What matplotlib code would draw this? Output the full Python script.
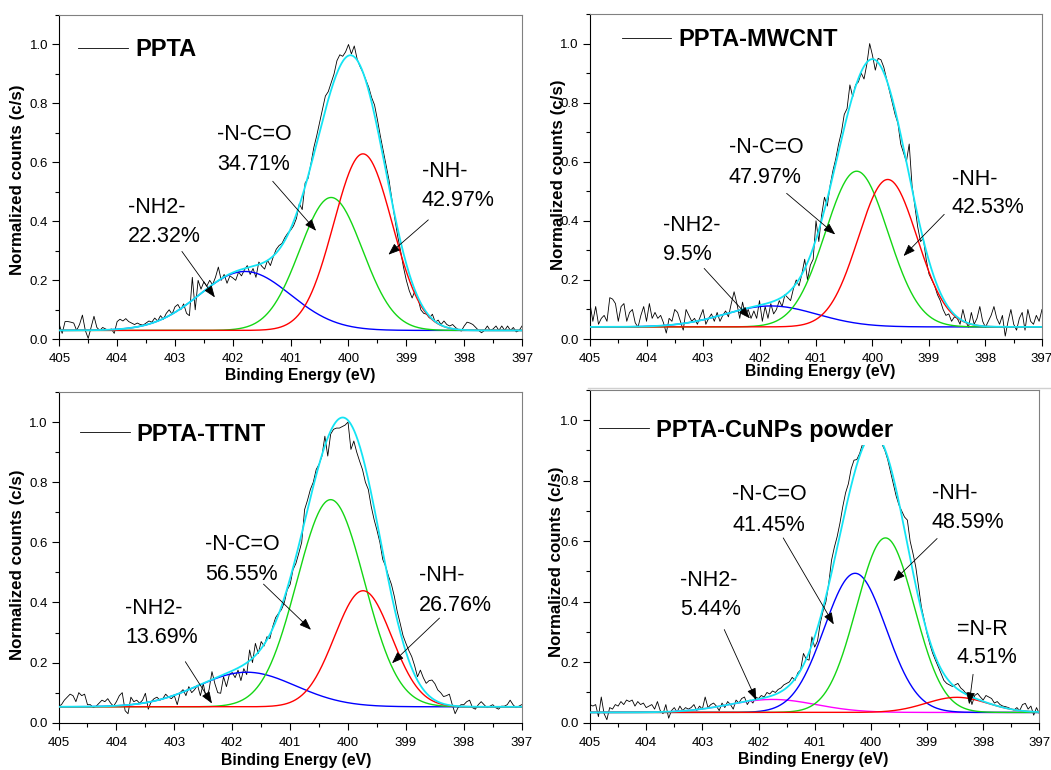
import numpy as np
import matplotlib
matplotlib.use("Agg")
import matplotlib.pyplot as plt
from matplotlib.lines import Line2D
from matplotlib.ticker import MultipleLocator, FormatStrFormatter

plt.rcParams['font.family'] = ['Liberation Sans', 'DejaVu Sans']

# ---------------------------------------------------------------- data
# binding-energy grid of the N1s scans (405 -> 397 eV, 0.05 eV step)
energy = np.linspace(405.0, 397.0, 161)

# normalized N1s counts, one row per eV
ppta_counts = [
    0.050, 0.020, 0.060, 0.060, 0.058, 0.055, 0.030, 0.050, 0.082, 0.030, 0.003, 0.040, 0.078, 0.040, 0.030, 0.040, 0.035, 0.030, 0.035, 0.020,
    0.060, 0.068, 0.062, 0.070, 0.060, 0.055, 0.050, 0.055, 0.050, 0.048, 0.055, 0.062, 0.058, 0.072, 0.062, 0.080, 0.068, 0.088, 0.100, 0.085,
    0.110, 0.118, 0.100, 0.120, 0.088, 0.080, 0.210, 0.100, 0.200, 0.170, 0.195, 0.180, 0.200, 0.185, 0.210, 0.245, 0.200, 0.220, 0.190, 0.215,
    0.208, 0.200, 0.228, 0.215, 0.235, 0.250, 0.220, 0.240, 0.210, 0.262, 0.248, 0.238, 0.268, 0.250, 0.280, 0.305, 0.318, 0.325, 0.345, 0.360,
    0.370, 0.385, 0.410, 0.460, 0.440, 0.530, 0.545, 0.595, 0.650, 0.690, 0.735, 0.780, 0.825, 0.840, 0.870, 0.900, 0.945, 0.965, 0.960, 0.975,
    1.000, 0.968, 0.995, 0.950, 0.925, 0.905, 0.880, 0.855, 0.820, 0.795, 0.745, 0.690, 0.640, 0.590, 0.540, 0.475, 0.410, 0.350, 0.300, 0.245,
    0.200, 0.165, 0.140, 0.165, 0.140, 0.100, 0.088, 0.085, 0.072, 0.085, 0.058, 0.065, 0.050, 0.062, 0.050, 0.045, 0.050, 0.040, 0.032, 0.028,
    0.045, 0.058, 0.055, 0.050, 0.040, 0.030, 0.022, 0.030, 0.045, 0.030, 0.035, 0.045, 0.030, 0.045, 0.030, 0.045, 0.030, 0.040, 0.025, 0.030,
    0.045,
]

mwcnt_counts = [
    0.120, 0.060, 0.110, 0.050, 0.070, 0.080, 0.060, 0.140, 0.135, 0.120, 0.060, 0.110, 0.120, 0.060, 0.090, 0.100, 0.055, 0.040, 0.080, 0.110,
    0.060, 0.120, 0.070, 0.090, 0.070, 0.080, 0.055, 0.020, 0.070, 0.060, 0.100, 0.090, 0.060, 0.030, 0.100, 0.080, 0.060, 0.070, 0.050, 0.075,
    0.100, 0.050, 0.070, 0.085, 0.060, 0.090, 0.060, 0.080, 0.095, 0.075, 0.120, 0.160, 0.120, 0.070, 0.125, 0.080, 0.100, 0.070, 0.095, 0.070,
    0.130, 0.060, 0.110, 0.070, 0.120, 0.085, 0.100, 0.130, 0.110, 0.150, 0.140, 0.130, 0.170, 0.200, 0.180, 0.220, 0.270, 0.200, 0.250, 0.270,
    0.400, 0.330, 0.420, 0.480, 0.450, 0.520, 0.570, 0.610, 0.660, 0.700, 0.760, 0.780, 0.860, 0.820, 0.860, 0.870, 0.900, 0.880, 0.930, 1.000,
    0.960, 0.910, 0.950, 0.945, 0.920, 0.880, 0.840, 0.800, 0.760, 0.730, 0.660, 0.630, 0.600, 0.660, 0.520, 0.450, 0.380, 0.330, 0.340, 0.270,
    0.220, 0.200, 0.180, 0.150, 0.130, 0.100, 0.080, 0.085, 0.060, 0.075, 0.070, 0.050, 0.100, 0.060, 0.040, 0.090, 0.050, 0.070, 0.110, 0.060,
    0.040, 0.060, 0.080, 0.110, 0.070, 0.050, 0.080, 0.010, 0.060, 0.100, 0.050, 0.030, 0.070, 0.090, 0.030, 0.100, 0.060, 0.050, 0.080, 0.060,
    0.100,
]

ttnt_counts = [
    0.055, 0.060, 0.075, 0.085, 0.095, 0.090, 0.070, 0.100, 0.090, 0.095, 0.060, 0.060, 0.050, 0.055, 0.065, 0.075, 0.070, 0.080, 0.065, 0.055,
    0.070, 0.090, 0.100, 0.040, 0.030, 0.085, 0.070, 0.075, 0.065, 0.075, 0.098, 0.045, 0.070, 0.080, 0.085, 0.075, 0.080, 0.095, 0.085, 0.080,
    0.090, 0.060, 0.100, 0.110, 0.090, 0.120, 0.100, 0.110, 0.125, 0.090, 0.130, 0.080, 0.110, 0.170, 0.130, 0.100, 0.098, 0.153, 0.120, 0.160,
    0.167, 0.150, 0.175, 0.140, 0.180, 0.160, 0.242, 0.200, 0.264, 0.230, 0.270, 0.255, 0.286, 0.280, 0.320, 0.350, 0.364, 0.376, 0.400, 0.442,
    0.460, 0.509, 0.530, 0.564, 0.600, 0.709, 0.740, 0.776, 0.800, 0.842, 0.860, 0.887, 0.953, 0.887, 0.960, 0.976, 0.980, 0.980, 0.985, 0.990,
    1.000, 0.909, 0.937, 0.900, 0.870, 0.842, 0.800, 0.776, 0.720, 0.676, 0.640, 0.600, 0.543, 0.520, 0.487, 0.460, 0.420, 0.370, 0.331, 0.290,
    0.264, 0.240, 0.220, 0.190, 0.153, 0.175, 0.150, 0.131, 0.140, 0.142, 0.130, 0.109, 0.100, 0.087, 0.090, 0.095, 0.060, 0.030, 0.050, 0.060,
    0.060, 0.070, 0.075, 0.050, 0.045, 0.060, 0.070, 0.060, 0.050, 0.055, 0.060, 0.050, 0.045, 0.055, 0.055, 0.060, 0.075, 0.060, 0.050, 0.055,
    0.060,
]

cunps_counts = [
    0.060, 0.055, 0.060, 0.020, 0.085, 0.030, 0.010, 0.050, 0.045, 0.060, 0.055, 0.070, 0.060, 0.075, 0.070, 0.075, 0.055, 0.070, 0.060, 0.065,
    0.050, 0.055, 0.060, 0.045, 0.070, 0.040, 0.030, 0.060, 0.015, 0.040, 0.050, 0.035, 0.055, 0.040, 0.050, 0.045, 0.050, 0.060, 0.040, 0.055,
    0.045, 0.085, 0.050, 0.060, 0.065, 0.055, 0.040, 0.065, 0.050, 0.070, 0.060, 0.045, 0.075, 0.065, 0.080, 0.085, 0.060, 0.075, 0.065, 0.085,
    0.080, 0.090, 0.085, 0.100, 0.095, 0.105, 0.100, 0.110, 0.115, 0.125, 0.130, 0.135, 0.150, 0.140, 0.165, 0.175, 0.229, 0.210, 0.207, 0.284,
    0.250, 0.270, 0.330, 0.370, 0.400, 0.460, 0.537, 0.580, 0.615, 0.660, 0.714, 0.760, 0.790, 0.840, 0.868, 0.870, 0.890, 0.920, 0.940, 0.960,
    0.990, 1.000, 0.970, 0.950, 0.920, 0.900, 0.870, 0.830, 0.790, 0.750, 0.720, 0.700, 0.680, 0.670, 0.600, 0.560, 0.515, 0.450, 0.383, 0.340,
    0.295, 0.260, 0.230, 0.207, 0.185, 0.163, 0.140, 0.130, 0.125, 0.120, 0.125, 0.130, 0.115, 0.107, 0.095, 0.100, 0.060, 0.090, 0.097, 0.085,
    0.075, 0.090, 0.085, 0.080, 0.065, 0.070, 0.060, 0.055, 0.053, 0.050, 0.045, 0.042, 0.050, 0.040, 0.060, 0.064, 0.045, 0.055, 0.025, 0.050,
    0.030,
]

# Gaussian fit components: centre (eV), height above background, area share (%)
ppta_names = ["-NH2-", "-N-C=O", "-NH-"]
ppta_centers = [401.79, 400.30, 399.75]
ppta_heights = [0.200, 0.451, 0.599]
ppta_shares = [22.32, 34.71, 42.97]
ppta_background = 0.030
ppta_total_area = 1.767

mwcnt_names = ["-NH2-", "-N-C=O", "-NH-"]
mwcnt_centers = [401.80, 400.28, 399.73]
mwcnt_heights = [0.071, 0.527, 0.499]
mwcnt_shares = [9.5, 47.97, 42.53]
mwcnt_background = 0.041
mwcnt_total_area = 1.529

ttnt_names = ["-NH2-", "-N-C=O", "-NH-"]
ttnt_centers = [401.75, 400.30, 399.74]
ttnt_heights = [0.115, 0.689, 0.386]
ttnt_shares = [13.69, 56.55, 26.76]
ttnt_background = 0.053
ttnt_total_area = 1.780

cunps_names = ["-NH2-", "-N-C=O", "-NH-", "=N-R"]
cunps_centers = [401.75, 400.28, 399.74, 398.47]
cunps_heights = [0.043, 0.460, 0.577, 0.050]
cunps_shares = [5.44, 41.45, 48.59, 4.51]
cunps_background = 0.034
cunps_total_area = 1.529

sample_labels = ["PPTA", "PPTA-MWCNT", "PPTA-TTNT", "PPTA-CuNPs powder"]

# ---------------------------------------------------------------- styling / layout
BLUE, GREEN, RED, MAGENTA, CYAN = "#0000ff", "#14d614", "#ff0000", "#ff00ff", "#14e4f4"

panels = [
    dict(rect=[0.0564, 0.5594, 0.4403, 0.4211], counts=ppta_counts, names=ppta_names,
         centers=ppta_centers, heights=ppta_heights, shares=ppta_shares,
         bg=ppta_background, area=ppta_total_area, colors=[BLUE, GREEN, RED],
         legend_xy=(0.0335, 0.939), ylab=(-0.0734, 0.491), xlab=(0.520, -0.0894),
         notes=[  # (text x, 1st baseline, 2nd baseline, arrow tail, arrow head)
             (403.82, 0.428, 0.330, (402.88, 0.298), (402.31, 0.142)),
             (402.27, 0.677, 0.575, (401.31, 0.536), (400.56, 0.368)),
             (398.73, 0.549, 0.451, (398.62, 0.405), (399.31, 0.287)),
         ]),
    dict(rect=[0.5614, 0.5597, 0.4300, 0.4221], counts=mwcnt_counts, names=mwcnt_names,
         centers=mwcnt_centers, heights=mwcnt_heights, shares=mwcnt_shares,
         bg=mwcnt_background, area=mwcnt_total_area, colors=[BLUE, GREEN, RED],
         legend_xy=(0.0624, 0.967), ylab=(-0.0542, 0.505), xlab=(0.509, -0.078),
         notes=[
             (403.71, 0.365, 0.267, (402.98, 0.239), (402.17, 0.070)),
             (402.54, 0.628, 0.529, (401.52, 0.493), (400.66, 0.354)),
             (398.60, 0.523, 0.425, (398.73, 0.422), (399.45, 0.281)),
         ]),
    dict(rect=[0.0557, 0.0614, 0.4407, 0.4295], counts=ttnt_counts, names=ttnt_names,
         centers=ttnt_centers, heights=ttnt_heights, shares=ttnt_shares,
         bg=ttnt_background, area=ttnt_total_area, colors=[BLUE, GREEN, RED],
         legend_xy=(0.0389, 0.918), ylab=(-0.0723, 0.478), xlab=(0.514, -0.0925),
         notes=[
             (403.85, 0.361, 0.264, (402.81, 0.203), (402.35, 0.064)),
             (402.47, 0.573, 0.476, (401.46, 0.461), (400.64, 0.309)),
             (398.77, 0.470, 0.370, (398.42, 0.348), (399.24, 0.198)),
         ]),
    dict(rect=[0.5614, 0.0614, 0.4275, 0.4321], counts=cunps_counts, names=cunps_names,
         centers=cunps_centers, heights=cunps_heights, shares=cunps_shares,
         bg=cunps_background, area=cunps_total_area, colors=[MAGENTA, BLUE, GREEN, RED],
         legend_xy=(0.0122, 0.925), ylab=(-0.0583, 0.484), xlab=(0.496, -0.087),
         notes=[
             (403.40, 0.452, 0.356, (402.61, 0.308), (402.04, 0.075)),
             (402.47, 0.736, 0.634, (401.56, 0.611), (400.66, 0.325)),
             (398.92, 0.741, 0.645, (398.82, 0.609), (399.60, 0.468)),
             (398.47, 0.290, 0.196, (398.18, 0.160), (398.25, 0.061)),
         ]),
]


def gaussian(x, center, height, sigma):
    return height * np.exp(-(x - center) ** 2 / (2.0 * sigma ** 2))


fig = plt.figure(figsize=(10.51, 7.70), dpi=100)
fine = np.linspace(405.0, 397.0, 801)

for label, p in zip(sample_labels, panels):
    ax = fig.add_axes(p["rect"])

    # measured spectrum
    ax.plot(energy, p["counts"], color="black", lw=0.6, label=label, zorder=2)

    # fitted components: width follows from the peak's area share
    envelope = np.full_like(fine, p["bg"])
    for c, h, s, col in zip(p["centers"], p["heights"], p["shares"], p["colors"]):
        sigma = p["area"] * s / 100.0 / (h * np.sqrt(2 * np.pi))
        comp = gaussian(fine, c, h, sigma)
        envelope += comp
        ax.plot(fine, p["bg"] + comp, color=col, lw=1.0, zorder=3)
    ax.plot(fine, envelope, color=CYAN, lw=1.3, zorder=4)

    # peak labels with arrows
    for name, share, (tx, y1, y2, tail, head) in zip(p["names"], p["shares"], p["notes"]):
        ax.text(tx, y1, name, fontsize=15.5, ha="left", va="baseline", zorder=6)
        ax.text(tx, y2, f"{share:g}%", fontsize=15.5, ha="left", va="baseline", zorder=6)
        ax.annotate("", xy=head, xytext=tail, zorder=6,
                    arrowprops=dict(arrowstyle="-|>,head_length=0.45,head_width=0.17",
                                    lw=0.6, color="black", shrinkA=0, shrinkB=0,
                                    mutation_scale=16))

    ax.set_xlim(405, 397)
    ax.set_ylim(0, 1.1)
    ax.xaxis.set_major_locator(MultipleLocator(1))
    ax.xaxis.set_minor_locator(MultipleLocator(0.5))
    ax.yaxis.set_major_locator(MultipleLocator(0.2))
    ax.yaxis.set_minor_locator(MultipleLocator(0.1))
    ax.xaxis.set_major_formatter(FormatStrFormatter("%d"))
    ax.yaxis.set_major_formatter(FormatStrFormatter("%.1f"))
    ax.tick_params(which="both", direction="out", top=False, right=False,
                   width=0.8, labelsize=9.5, colors="black")
    ax.tick_params(which="major", length=5)
    ax.tick_params(which="minor", length=3)
    ax.tick_params(axis="x", pad=5)
    ax.tick_params(axis="y", pad=3)
    for side in ("left", "bottom"):
        ax.spines[side].set_color("black")
        ax.spines[side].set_linewidth(0.8)
    for side in ("top", "right"):
        ax.spines[side].set_color("#808080")
        ax.spines[side].set_linewidth(0.8)

    ax.set_xlabel("Binding Energy (eV)", fontsize=11.3, fontweight="bold")
    ax.set_ylabel("Normalized counts (c/s)", fontsize=12.2, fontweight="bold")
    ax.xaxis.set_label_coords(*p["xlab"])
    ax.yaxis.set_label_coords(*p["ylab"])

    leg = ax.legend(loc="upper left", bbox_to_anchor=p["legend_xy"], borderaxespad=0,
                    frameon=True, fancybox=False, framealpha=1, facecolor="white",
                    edgecolor="none", prop=dict(weight="bold", size=17),
                    handlelength=2.1, handletextpad=0.3, borderpad=0.15)
    leg.set_zorder(5)

# thin rule under the upper-right panel
fig.add_artist(Line2D([588 / 1051, 1.0], [1 - 388 / 770] * 2, color="#d0d0d0", lw=1))

fig.savefig("out.png", dpi=100)
